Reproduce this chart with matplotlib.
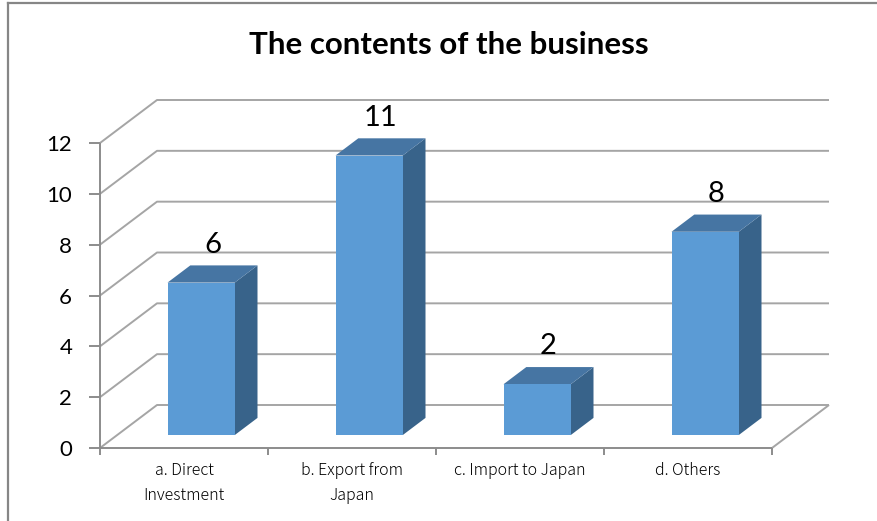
import matplotlib
matplotlib.use("Agg")
import matplotlib.pyplot as plt
from matplotlib.patches import Polygon
from matplotlib.lines import Line2D

categories = ["a. Direct\nInvestment", "b. Export from\nJapan", "c. Import to Japan", "d. Others"]
values = [6, 11, 2, 8]
yticks = [0, 2, 4, 6, 8, 10, 12]
title = "The contents of the business"

W, H = 877, 521
fig = plt.figure(figsize=(W / 100, H / 100), dpi=100)
fig.patch.set_facecolor("white")

# plot area in pixels (front plane)
x_left, x_right = 100, 772
y_bottom, y_top = 448, 143
ax = fig.add_axes([x_left / W, (H - y_bottom) / H, (x_right - x_left) / W, (y_bottom - y_top) / H])
ax.set_xlim(0, 4)
ax.set_ylim(0, 12)
ax.patch.set_alpha(0)
for s in ax.spines.values():
    s.set_visible(False)

# depth offset of the back wall, in data units
DX = 57 / 168.0
DY = 43 / (305 / 12.0)

grid_c = "#A5A5A5"
axis_c = "#8C8C8C"
lw = 1.4

def line(xs, ys, c=grid_c, z=1):
    ax.add_line(Line2D(xs, ys, color=c, lw=lw, clip_on=False, zorder=z, solid_capstyle="butt"))

# back wall and side wall gridlines
for v in yticks:
    line([0, DX, 4 + DX], [v, v + DY, v + DY])
# floor edges and axes
line([4, 4 + DX], [0, DY])
line([0, 4], [0, 0], c=axis_c, z=2)
line([0, 0], [0, 12], c=axis_c, z=2)

# 3D bars
front_c = "#5B9BD5"
top_c = "#4675A3"
side_c = "#38638A"
bw = 0.4
z0, z1 = 0.3, 0.7
dz = z1 - z0
for i, v in enumerate(values):
    x0 = i + 0.5 - bw / 2 + z0 * DX
    x1 = i + 0.5 + bw / 2 + z0 * DX
    yb = z0 * DY
    yt = v + z0 * DY
    front = [(x0, yb), (x1, yb), (x1, yt), (x0, yt)]
    top = [(x0, yt), (x1, yt), (x1 + dz * DX, yt + dz * DY), (x0 + dz * DX, yt + dz * DY)]
    side = [(x1, yb), (x1 + dz * DX, yb + dz * DY), (x1 + dz * DX, yt + dz * DY), (x1, yt)]
    for pts, col in ((side, side_c), (top, top_c), (front, front_c)):
        ax.add_patch(Polygon(pts, closed=True, facecolor=col, edgecolor="none",
                             clip_on=False, zorder=3))
    ax.text(i + 0.5 + 0.5 * DX, v + 0.5 * DY + 1.15, str(v), ha="center", va="center",
            fontsize=21, family="Lato", color="black", clip_on=False, zorder=4)

# axes ticks
ax.set_yticks(yticks)
ax.set_yticklabels([str(t) for t in yticks], fontsize=16, family="Lato")
ax.tick_params(axis="y", length=8, width=lw, color=axis_c, pad=12, direction="out")
ax.set_xticks([0, 1, 2, 3, 4])
ax.set_xticklabels([""] * 5)
ax.tick_params(axis="x", which="major", length=5, width=lw, color=axis_c, direction="out")
ax.set_xticks([0.5, 1.5, 2.5, 3.5], minor=True)
ax.set_xticklabels(categories, minor=True, fontsize=11.5, fontweight="light",
                   family=["Noto Sans CJK JP", "DejaVu Sans"], linespacing=1.65, va="top")
ax.tick_params(axis="x", which="minor", length=0, pad=10)

# title
fig.text(449 / W, 1 - 45 / H, title, ha="center", va="center",
         fontsize=22.5, fontweight="bold", family="Lato")

# chart-area border (top and left edges)
fig.add_artist(Line2D([7.5 / W, 7.5 / W], [0, 1 - 2.5 / H], transform=fig.transFigure,
                      color="#868686", lw=1.6))
fig.add_artist(Line2D([7.5 / W, 1], [1 - 2.5 / H, 1 - 2.5 / H], transform=fig.transFigure,
                      color="#868686", lw=1.6))

fig.savefig("out.png", dpi=100)
